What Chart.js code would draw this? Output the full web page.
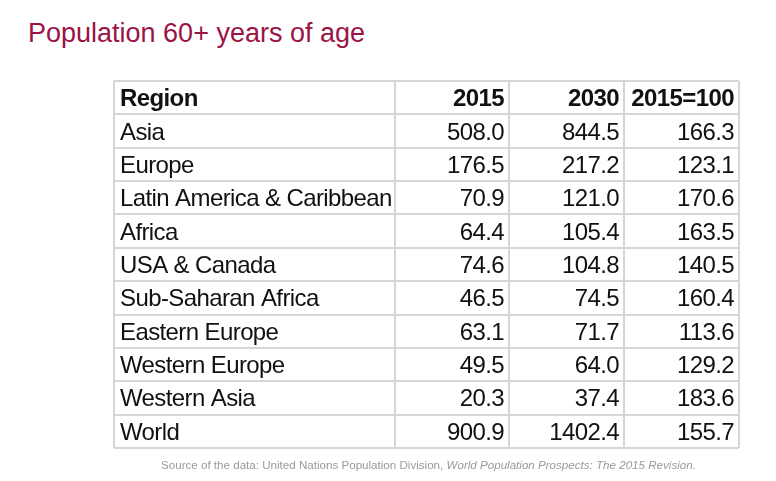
<!DOCTYPE html>
<html lang="en">
<head>
<meta charset="UTF-8">
<title>Population 60+ years of age</title>
<script src="https://cdn.jsdelivr.net/npm/chart.js@4.4.0/dist/chart.umd.min.js"></script>
<style>
  html, body { margin: 0; padding: 0; background: #fff; overflow: hidden; }
  #wrap { position: relative; width: 776px; height: 481px; }
  #title {
    position: absolute; left: 28px; top: 20px;
    font: 27px/27px "Liberation Sans", Arial, sans-serif;
    color: #9c1346; white-space: nowrap;
  }
  #source {
    position: absolute; left: 161px; top: 459px;
    font: 11.6px/12px "Liberation Sans", Arial, sans-serif;
    color: #9a9a9a; white-space: nowrap;
  }
  canvas { position: absolute; left: 0; top: 0; }
</style>
</head>
<body>
<div id="wrap">
  <div id="title">Population 60+ years of age</div>
  <canvas id="tableChart" width="776" height="481"></canvas>
  <div id="source">Source of the data: United Nations Population Division, <i>World Population Prospects: The 2015 Revision.</i></div>
</div>
<script>
const headers = ['Region', '2015', '2030', '2015=100'];
const regions = ['Asia', 'Europe', 'Latin America & Caribbean', 'Africa', 'USA & Canada',
  'Sub-Saharan Africa', 'Eastern Europe', 'Western Europe', 'Western Asia', 'World'];
const pop2015 = [508.0, 176.5, 70.9, 64.4, 74.6, 46.5, 63.1, 49.5, 20.3, 900.9];
const pop2030 = [844.5, 217.2, 121.0, 105.4, 104.8, 74.5, 71.7, 64.0, 37.4, 1402.4];
const index2015 = [166.3, 123.1, 170.6, 163.5, 140.5, 160.4, 113.6, 129.2, 183.6, 155.7];

// column boundaries on the x scale (one unit = one table pixel)
const colEdges = [0, 281, 395, 510, 625];
const nRows = regions.length + 1;

// one invisible scatter dataset per column, each point sits in a cell
function column(i, texts, align) {
  const x = align === 'left' ? colEdges[i] : colEdges[i + 1];
  const data = [{ x: x, y: 0.5, text: headers[i], head: true }];
  texts.forEach((t, r) => data.push({ x: x, y: r + 1.5, text: t, head: false }));
  return { label: headers[i], data: data, align: align, pointRadius: 0, showLine: false };
}

const fmt = v => v.toFixed(1);

const cellText = {
  id: 'cellText',
  afterDatasetsDraw(chart) {
    const ctx = chart.ctx;
    ctx.save();
    ctx.fillStyle = '#111';
    ctx.textBaseline = 'alphabetic';
    chart.data.datasets.forEach((ds, di) => {
      const meta = chart.getDatasetMeta(di);
      meta.data.forEach((pt, i) => {
        const raw = ds.data[i];
        ctx.font = (raw.head ? 'bold ' : '') + '24px "Liberation Sans", Arial, sans-serif';
        ctx.letterSpacing = '-0.6px';
        ctx.textAlign = ds.align;
        const dx = ds.align === 'left' ? 6 : -5;
        ctx.fillText(raw.text, pt.x + dx, pt.y + 8.5);
      });
    });
    ctx.restore();
  }
};

new Chart(document.getElementById('tableChart'), {
  type: 'scatter',
  data: {
    datasets: [
      column(0, regions, 'left'),
      column(1, pop2015.map(fmt), 'right'),
      column(2, pop2030.map(fmt), 'right'),
      column(3, index2015.map(fmt), 'right')
    ]
  },
  options: {
    responsive: false,
    animation: false,
    events: [],
    layout: { padding: { left: 114, right: 37, top: 81, bottom: 33 } },
    plugins: { legend: { display: false }, tooltip: { enabled: false } },
    scales: {
      x: {
        type: 'linear', min: 0, max: colEdges[colEdges.length - 1],
        afterBuildTicks: s => { s.ticks = colEdges.map(v => ({ value: v })); },
        ticks: { display: false },
        grid: { color: '#d6d6d6', lineWidth: 2, drawTicks: false },
        border: { display: false }
      },
      y: {
        type: 'linear', min: 0, max: nRows, reverse: true,
        afterBuildTicks: s => { s.ticks = Array.from({ length: nRows + 1 }, (_, i) => ({ value: i })); },
        ticks: { display: false },
        grid: { color: '#d6d6d6', lineWidth: 2, drawTicks: false },
        border: { display: false }
      }
    }
  },
  plugins: [cellText]
});
</script>
</body>
</html>
